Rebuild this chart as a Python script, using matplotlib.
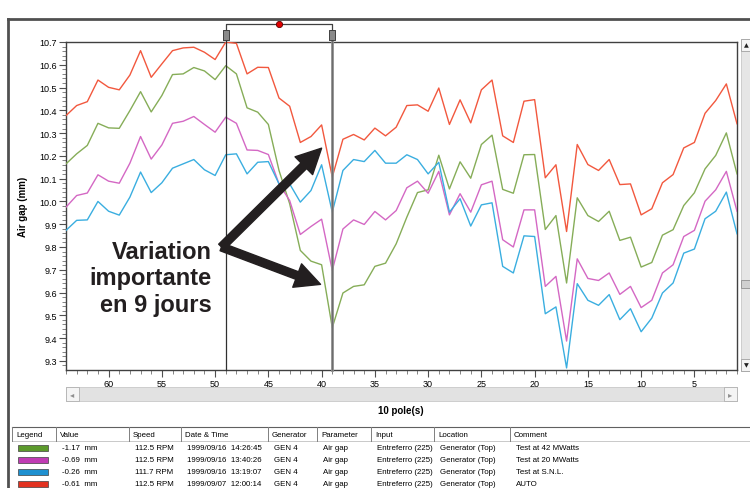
import numpy as np
import matplotlib
matplotlib.use("Agg")
import matplotlib.pyplot as plt
import matplotlib.transforms as mtransforms
from matplotlib.patches import Rectangle
from matplotlib.path import Path

plt.rcParams['font.family'] = ['Liberation Sans', 'DejaVu Sans']

# poles 64 -> 1
poles = list(range(64, 0, -1))

# Test at 42 MWatts (green)
gap_42mw = [10.165, 10.209, 10.246, 10.343, 10.323, 10.321, 10.399, 10.482, 10.393, 10.465, 10.557, 10.560, 10.588, 10.573, 10.535, 10.596,
            10.560, 10.411, 10.392, 10.338, 10.136, 9.990, 9.785, 9.738, 9.722, 9.446, 9.598, 9.627, 9.634, 9.715, 9.729,
            9.814, 9.931, 10.039, 10.051, 10.203, 10.055, 10.174, 10.102, 10.250, 10.291, 10.053, 10.036, 10.205, 10.206, 9.877, 9.938, 9.642,
            10.016, 9.938, 9.912, 9.957, 9.829, 9.843, 9.712, 9.732, 9.852, 9.876, 9.982, 10.038, 10.143, 10.202, 10.301, 10.121]
# Test at 20 MWatts (magenta)
gap_20mw = [9.975, 10.026, 10.037, 10.117, 10.089, 10.080, 10.168, 10.285, 10.186, 10.248, 10.343, 10.352, 10.373, 10.338, 10.304, 10.370,
            10.343, 10.226, 10.224, 10.206, 10.077, 10.004, 9.855, 9.890, 9.922, 9.697, 9.879, 9.919, 9.899, 9.956, 9.919,
            9.960, 10.060, 10.089, 10.036, 10.132, 9.941, 10.034, 9.953, 10.073, 10.089, 9.832, 9.800, 9.963, 9.963, 9.627, 9.671, 9.387,
            9.748, 9.662, 9.653, 9.686, 9.592, 9.627, 9.534, 9.566, 9.686, 9.722, 9.846, 9.873, 10.001, 10.051, 10.132, 9.957]
# Test at S.N.L. (blue)
gap_snl = [9.873, 9.917, 9.919, 10.000, 9.957, 9.940, 10.019, 10.129, 10.039, 10.082, 10.146, 10.165, 10.184, 10.139, 10.114, 10.205,
           10.209, 10.121, 10.172, 10.175, 10.077, 10.077, 9.997, 10.048, 10.161, 9.953, 10.136, 10.184, 10.175, 10.224, 10.168,
           10.168, 10.205, 10.184, 10.121, 10.172, 9.953, 10.012, 9.892, 9.985, 9.994, 9.715, 9.686, 9.849, 9.846, 9.507, 9.537, 9.269,
           9.639, 9.566, 9.544, 9.591, 9.481, 9.529, 9.428, 9.488, 9.598, 9.642, 9.773, 9.791, 9.924, 9.957, 10.041, 9.858]
# AUTO (red)
gap_auto = [10.377, 10.421, 10.438, 10.533, 10.501, 10.490, 10.555, 10.662, 10.545, 10.604, 10.662, 10.674, 10.677, 10.655, 10.623, 10.700,
            10.694, 10.560, 10.589, 10.588, 10.454, 10.418, 10.259, 10.285, 10.336, 10.107, 10.273, 10.294, 10.270, 10.322, 10.288,
            10.326, 10.421, 10.424, 10.396, 10.498, 10.338, 10.446, 10.345, 10.490, 10.533, 10.288, 10.259, 10.440, 10.447, 10.104, 10.161, 9.868,
            10.250, 10.162, 10.136, 10.184, 10.074, 10.077, 9.941, 9.968, 10.082, 10.118, 10.235, 10.259, 10.387, 10.443, 10.516, 10.341]

line_colors = ['#86ad58', '#d468c4', '#3aaee0', '#f2583e']
swatch_colors = ['#5c9a2c', '#c03cb4', '#1e90d0', '#e23220']
series = [gap_42mw, gap_20mw, gap_snl, gap_auto]

cursor_a = 49
cursor_b = 39

# table
headers = ['Legend', 'Value', 'Speed', 'Date & Time', 'Generator', 'Parameter', 'Input', 'Location', 'Comment']
values = ['-1.17  mm', '-0.69  mm', '-0.26  mm', '-0.61  mm']
speeds = ['112.5 RPM', '112.5 RPM', '111.7 RPM', '112.5 RPM']
dates = ['1999/09/16  14:26:45', '1999/09/16  13:40:26', '1999/09/16  13:19:07', '1999/09/07  12:00:14']
generators = ['GEN 4'] * 4
params = ['Air gap'] * 4
inputs = ['Entreferro (225)'] * 4
locations = ['Generator (Top)'] * 4
comments = ['Test at 42 MWatts', 'Test at 20 MWatts', 'Test at S.N.L.', 'AUTO']

W, H = 750, 489
fig = plt.figure(figsize=(7.5, 4.89), dpi=100)

def fx(px):
    return px / W

def fy(py):
    return 1 - py / H

ax = fig.add_axes([fx(66), fy(371), fx(737) - fx(66), fy(43) - fy(371)])
for vals, c in zip(series, line_colors):
    ax.plot(poles, vals, color=c, lw=1.0, zorder=3)

ax.set_xlim(64, 1)
ax.set_ylim(9.26, 10.7)
ax.set_xticks([60, 55, 50, 45, 40, 35, 30, 25, 20, 15, 10, 5])
ax.set_xticks(range(1, 65), minor=True)
ax.set_yticks(np.round(np.arange(9.3, 10.71, 0.1), 1))
ax.set_yticks(np.arange(9.28, 10.7, 0.02), minor=True)
ax.yaxis.set_major_formatter(matplotlib.ticker.FormatStrFormatter('%.1f'))
ax.tick_params(which='major', length=5, width=0.8, color='#505050', labelsize=6.5, pad=1.5)
ax.tick_params(which='minor', length=3, width=0.6, color='#707070')
for s in ax.spines.values():
    s.set_color('#404040')
    s.set_linewidth(1.0)
ax.set_ylabel('Air gap (mm)', fontsize=7, fontweight='bold')
ax.yaxis.set_label_coords(-0.056, 0.5)

# cursors
blend = mtransforms.blended_transform_factory(ax.transData, ax.transAxes)
ax.plot([cursor_a, cursor_a], [0, 1.02], transform=blend, color='#303030', lw=0.9, clip_on=False, zorder=4)
ax.plot([cursor_b, cursor_b], [0, 1.02], transform=blend, color='#8c8c8c', lw=2.0, clip_on=False, zorder=4)
ax.plot([cursor_b, cursor_b], [0, 1.02], transform=blend, color='#606060', lw=0.5, clip_on=False, zorder=4)
tab = Path([(-0.6, -1), (0.6, -1), (0.6, 1), (-0.6, 1), (-0.6, -1)])
for c in (cursor_a, cursor_b):
    ax.plot([c], [1.02], transform=blend, marker=tab, ms=7, mfc='#8a8a8a', mec='#404040', mew=0.7,
            clip_on=False, zorder=5)
ax.plot([cursor_a, cursor_a, cursor_b, cursor_b], [1.033, 1.056, 1.056, 1.033], transform=blend,
        color='#404040', lw=0.9, clip_on=False)
ax.plot([(cursor_a + cursor_b) / 2], [1.056], transform=blend, marker='o', ms=4.5, mfc='#e00000',
        mec='#600000', mew=0.6, clip_on=False)

# annotation
ax.text(50.3, 9.665, 'Variation\nimportante\nen 9 jours', ha='right', va='center', multialignment='right',
        fontsize=17, fontweight='bold', color='#231f20', linespacing=1.2, zorder=6)
arrow_kw = dict(arrowstyle='simple,head_width=1.0,head_length=1.0,tail_width=0.32', color='#231f20',
                mutation_scale=18, shrinkA=0, shrinkB=0)
ax.annotate('', xy=(40.0, 10.234), xytext=(49.4, 9.80), arrowprops=arrow_kw, zorder=6)
ax.annotate('', xy=(40.1, 9.636), xytext=(49.4, 9.80), arrowprops=arrow_kw, zorder=6)

# outer frame
fig.add_artist(plt.Line2D([fx(8), fx(8)], [fy(20), 0], color='#505050', lw=2))
fig.add_artist(plt.Line2D([fx(8), 1], [fy(20), fy(20)], color='#505050', lw=2))

# horizontal scrollbar
fig.add_artist(Rectangle((fx(66), fy(402)), fx(737) - fx(66), fy(388) - fy(402), facecolor='#e2e2e2',
                         edgecolor='#c8c8c8', lw=0.6))
for x0 in (66, 724):
    fig.add_artist(Rectangle((fx(x0), fy(402)), fx(13), fy(388) - fy(402), facecolor='#f4f4f4',
                             edgecolor='#b0b0b0', lw=0.6))
fig.text(fx(72.5), fy(395), '◂', ha='center', va='center', fontsize=6, color='#909090',
         family=['DejaVu Sans'])
fig.text(fx(730.5), fy(395), '▸', ha='center', va='center', fontsize=6, color='#909090',
         family=['DejaVu Sans'])

# vertical scrollbar
fig.add_artist(Rectangle((fx(741), fy(372)), fx(9), fy(40) - fy(372), facecolor='#e6e6e6',
                         edgecolor='#c8c8c8', lw=0.6))
fig.add_artist(Rectangle((fx(741), fy(52)), fx(9), fy(40) - fy(52), facecolor='#f4f4f4',
                         edgecolor='#a0a0a0', lw=0.6))
fig.add_artist(Rectangle((fx(741), fy(372)), fx(9), fy(360) - fy(372), facecolor='#f4f4f4',
                         edgecolor='#a0a0a0', lw=0.6))
fig.add_artist(Rectangle((fx(741), fy(289)), fx(9), fy(281) - fy(289), facecolor='#d0d0d0',
                         edgecolor='#909090', lw=0.6))
fig.text(fx(746), fy(46), '▲', ha='center', va='center', fontsize=4.5, color='#202020', family=['DejaVu Sans'])
fig.text(fx(746), fy(366), '▼', ha='center', va='center', fontsize=4.5, color='#202020', family=['DejaVu Sans'])

fig.text(fx(401), fy(411), '10 pole(s)', ha='center', va='center', fontsize=7, fontweight='bold')

# table
col_x = [12, 56, 129, 181, 268, 317, 371, 434, 510]
fig.add_artist(plt.Line2D([fx(12), 1], [fy(428), fy(428)], color='#606060', lw=0.8))
fig.add_artist(plt.Line2D([fx(12), 1], [fy(442), fy(442)], color='#c0c0c0', lw=0.6))
for x, h in zip(col_x, headers):
    fig.add_artist(plt.Line2D([fx(x), fx(x)], [fy(428), fy(442)], color='#808080', lw=0.7))
    fig.text(fx(x + 4), fy(435.5), h, ha='left', va='center', fontsize=5.7)
row_y = [448.5, 461, 473, 485]
for i, ry in enumerate(row_y):
    fig.add_artist(Rectangle((fx(18), fy(ry + 3)), fx(30), fy(ry - 3) - fy(ry + 3), facecolor=swatch_colors[i],
                             edgecolor='#404040', lw=0.5))
    cells = [values[i], speeds[i], dates[i], generators[i], params[i], inputs[i], locations[i], comments[i]]
    for x, t in zip(col_x[1:], cells):
        fig.text(fx(x + 6), fy(ry), t, ha='left', va='center', fontsize=5.7)

fig.savefig('out.png', dpi=100)
